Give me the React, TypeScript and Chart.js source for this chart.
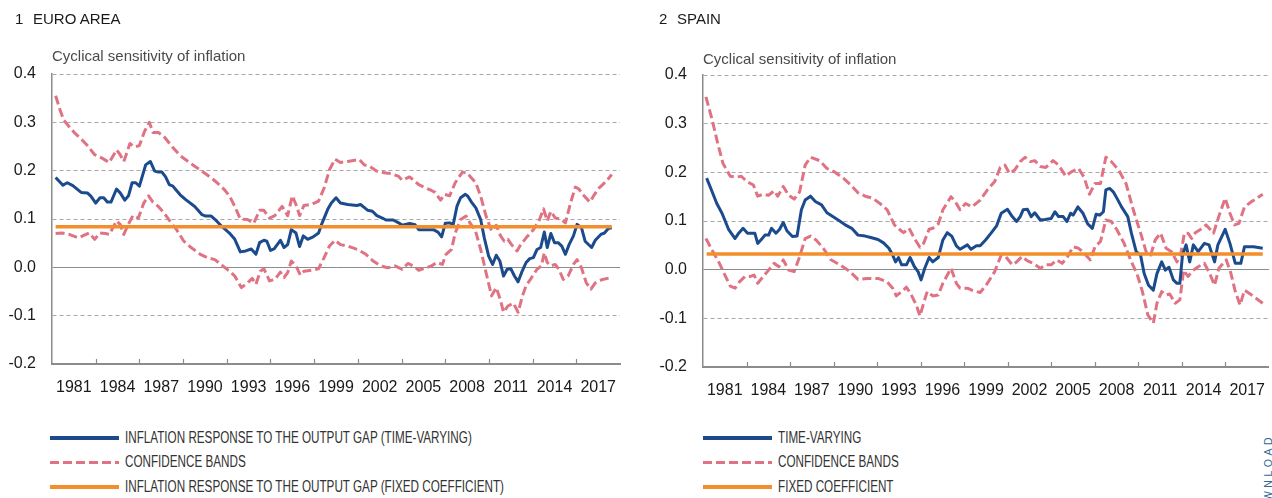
import React, { useEffect, useRef } from "react";
import { Chart, registerables } from "chart.js";

Chart.register(...registerables);

// ---------- axis labels ----------
const xTickLabels = ["1981", "1984", "1987", "1990", "1993", "1996", "1999", "2002", "2005", "2008", "2011", "2014", "2017"];
const yTicks = [-0.2, -0.1, 0.0, 0.1, 0.2, 0.3, 0.4];

// ---------- EURO AREA ----------
const euroTvYears = [1980.25,1980.75,1981.05,1981.43,1982.0,1982.43,1982.68,1983.0,1983.3,1983.55,1983.8,1984.05,1984.43,1984.68,1985.0,1985.25,1985.5,1985.75,1986.0,1986.43,1986.75,1987.05,1987.3,1987.55,1987.8,1988.05,1988.3,1988.55,1988.8,1989.18,1989.8,1990.3,1990.55,1990.93,1991.3,1991.68,1992.18,1992.55,1992.93,1993.3,1993.68,1994.0,1994.25,1994.55,1994.75,1995.0,1995.25,1995.68,1995.93,1996.18,1996.43,1996.75,1997.0,1997.25,1997.55,1997.93,1998.3,1998.55,1998.93,1999.18,1999.5,1999.8,2000.3,2000.93,2001.18,2001.43,2001.68,2002.0,2002.3,2002.68,2002.93,2003.43,2003.8,2004.05,2004.55,2004.93,2005.18,2005.55,2006.18,2006.5,2006.75,2007.0,2007.3,2007.55,2007.8,2008.05,2008.38,2008.55,2008.8,2009.1,2009.43,2009.68,2009.98,2010.25,2010.5,2010.75,2011.0,2011.25,2011.5,2011.75,2012.0,2012.25,2012.55,2012.8,2013.05,2013.3,2013.55,2013.8,2014.0,2014.25,2014.5,2014.75,2015.0,2015.25,2015.5,2015.8,2016.05,2016.35,2016.6,2017.05,2017.3,2017.68,2017.93,2018.18,2018.43];
const euroTvValues = [0.186,0.170,0.175,0.169,0.155,0.154,0.147,0.133,0.144,0.144,0.135,0.135,0.162,0.154,0.139,0.148,0.175,0.175,0.168,0.212,0.219,0.199,0.197,0.197,0.187,0.171,0.168,0.159,0.150,0.140,0.126,0.109,0.106,0.106,0.096,0.084,0.071,0.058,0.032,0.034,0.038,0.027,0.051,0.056,0.054,0.035,0.038,0.056,0.041,0.047,0.078,0.071,0.043,0.065,0.058,0.063,0.071,0.092,0.120,0.133,0.144,0.133,0.130,0.128,0.130,0.124,0.118,0.116,0.107,0.102,0.098,0.098,0.092,0.087,0.091,0.088,0.078,0.078,0.078,0.073,0.063,0.091,0.092,0.089,0.126,0.144,0.151,0.147,0.135,0.123,0.099,0.061,0.023,0.006,0.025,0.013,-0.018,-0.004,-0.003,-0.018,-0.030,-0.010,0.010,0.018,0.020,0.037,0.041,0.073,0.041,0.070,0.051,0.051,0.044,0.027,0.047,0.065,0.089,0.082,0.054,0.041,0.056,0.068,0.071,0.080,0.082];

const euroUpYears = [1980.25,1980.55,1980.8,1981.18,1981.55,1982.05,1982.43,1982.93,1983.43,1983.93,1984.43,1984.68,1984.93,1985.35,1985.68,1986.0,1986.35,1986.68,1986.93,1987.3,1987.68,1988.18,1988.8,1989.43,1989.8,1990.3,1990.8,1991.3,1991.8,1992.18,1992.55,1992.93,1993.43,1993.85,1994.25,1994.55,1994.93,1995.3,1995.8,1996.18,1996.5,1996.8,1997.0,1997.3,1997.8,1998.3,1998.68,1999.05,1999.43,1999.8,2000.3,2001.1,2001.43,2001.8,2002.3,2002.93,2003.3,2003.8,2004.05,2004.55,2004.93,2005.18,2005.68,2006.05,2006.3,2006.68,2006.93,2007.3,2007.68,2008.18,2008.5,2008.8,2009.1,2009.43,2009.8,2010.18,2010.5,2010.8,2011.05,2011.3,2011.55,2011.93,2012.18,2012.55,2013.05,2013.43,2013.75,2014.0,2014.25,2014.55,2014.93,2015.25,2015.6,2015.93,2016.18,2016.43,2016.93,2017.25,2017.55,2018.05,2018.43];
const euroUpValues = [0.355,0.326,0.305,0.291,0.278,0.264,0.252,0.233,0.226,0.217,0.243,0.233,0.219,0.256,0.249,0.252,0.281,0.300,0.279,0.279,0.271,0.252,0.231,0.217,0.209,0.199,0.188,0.176,0.162,0.148,0.126,0.100,0.099,0.091,0.118,0.118,0.102,0.107,0.126,0.107,0.148,0.126,0.107,0.128,0.130,0.137,0.164,0.202,0.224,0.217,0.219,0.223,0.212,0.209,0.199,0.195,0.194,0.188,0.180,0.187,0.178,0.171,0.164,0.159,0.155,0.139,0.151,0.148,0.175,0.197,0.195,0.185,0.175,0.147,0.106,0.075,0.087,0.065,0.054,0.058,0.047,0.034,0.047,0.061,0.078,0.096,0.121,0.096,0.116,0.102,0.100,0.092,0.133,0.166,0.162,0.151,0.135,0.151,0.164,0.178,0.192];

const euroLoYears = [1980.25,1980.68,1981.18,1981.8,1982.18,1982.55,1982.93,1983.3,1983.68,1983.93,1984.43,1984.68,1984.93,1985.18,1985.55,1985.93,1986.3,1986.63,1986.93,1987.3,1987.68,1988.18,1988.55,1989.05,1989.55,1990.18,1990.68,1991.18,1991.68,1992.18,1992.55,1993.0,1993.43,1993.75,1994.0,1994.3,1994.55,1994.93,1995.3,1995.68,1995.93,1996.18,1996.43,1996.75,1997.05,1997.3,1997.8,1998.3,1998.68,1999.05,1999.43,1999.8,2000.3,2001.05,2001.55,2002.05,2002.55,2003.05,2003.55,2004.05,2004.43,2004.8,2005.18,2005.68,2006.05,2006.43,2006.8,2007.05,2007.43,2007.68,2008.05,2008.43,2008.75,2009.05,2009.43,2009.8,2010.18,2010.5,2010.8,2011.0,2011.3,2011.68,2012.0,2012.3,2012.55,2012.93,2013.3,2013.6,2013.8,2014.0,2014.25,2014.55,2014.8,2015.1,2015.43,2015.8,2016.05,2016.35,2016.68,2017.0,2017.3,2017.8,2018.43];
const euroLoValues = [0.070,0.071,0.068,0.061,0.066,0.071,0.058,0.071,0.070,0.068,0.096,0.089,0.068,0.085,0.107,0.102,0.133,0.148,0.135,0.126,0.113,0.092,0.078,0.054,0.041,0.027,0.020,0.016,0.004,-0.008,-0.018,-0.042,-0.032,-0.023,-0.035,-0.008,-0.003,-0.028,-0.025,-0.010,-0.021,-0.011,0.013,0.003,-0.016,-0.008,-0.006,-0.003,0.020,0.044,0.056,0.047,0.044,0.036,0.027,0.013,0.003,-0.001,0.003,-0.004,0.008,0.003,-0.006,-0.001,0.003,0.010,0.006,0.027,0.037,0.071,0.099,0.106,0.089,0.078,0.037,-0.011,-0.059,-0.042,-0.069,-0.093,-0.080,-0.074,-0.093,-0.059,-0.038,-0.021,-0.004,0.003,0.030,0.010,0.003,0.006,-0.004,-0.025,-0.018,0.006,0.016,-0.001,-0.032,-0.045,-0.032,-0.025,-0.021];

const euroFixedYears = [1980.25, 2018.43];
const euroFixedValues = [0.084, 0.084];

// ---------- SPAIN ----------
const spainTvYears = [1980.25,1980.63,1980.95,1981.31,1981.76,1982.21,1982.46,1982.76,1983.07,1983.57,1983.77,1984.02,1984.27,1984.52,1984.72,1985.03,1985.28,1985.53,1985.78,1986.16,1986.48,1986.78,1987.04,1987.41,1987.74,1988.17,1988.54,1989.05,1989.42,1989.8,1990.25,1990.68,1991.18,1991.56,1992.06,1992.44,1992.81,1993.07,1993.27,1993.47,1993.69,1994.02,1994.27,1994.57,1994.82,1995.03,1995.28,1995.58,1995.83,1996.21,1996.53,1996.83,1997.14,1997.46,1997.71,1998.22,1998.47,1998.84,1999.1,1999.47,1999.85,2000.23,2000.55,2000.98,2001.31,2001.61,2001.86,2002.06,2002.36,2002.61,2002.86,2003.24,2003.57,2003.99,2004.25,2004.5,2004.82,2005.08,2005.33,2005.5,2005.83,2006.18,2006.51,2006.83,2007.09,2007.34,2007.59,2007.76,2008.02,2008.27,2008.52,2008.84,2009.27,2009.52,2009.85,2010.15,2010.4,2010.7,2011.03,2011.28,2011.61,2011.86,2012.11,2012.41,2012.66,2012.86,2013.04,2013.29,2013.54,2013.79,2014.12,2014.55,2014.87,2015.25,2015.48,2015.98,2016.31,2016.68,2017.06,2017.31,2017.94,2018.57];
const spainTvValues = [0.188,0.160,0.136,0.116,0.083,0.064,0.075,0.085,0.075,0.075,0.054,0.062,0.071,0.071,0.085,0.075,0.083,0.097,0.080,0.068,0.069,0.123,0.143,0.151,0.140,0.133,0.117,0.107,0.100,0.092,0.085,0.071,0.069,0.066,0.062,0.055,0.044,0.030,0.016,0.025,0.010,0.010,0.025,0.006,-0.004,-0.021,0.003,0.025,0.016,0.025,0.061,0.076,0.069,0.049,0.042,0.051,0.042,0.049,0.049,0.061,0.075,0.090,0.116,0.124,0.109,0.099,0.109,0.123,0.124,0.109,0.117,0.102,0.103,0.105,0.119,0.109,0.109,0.099,0.116,0.112,0.129,0.116,0.094,0.085,0.114,0.112,0.119,0.164,0.167,0.160,0.147,0.129,0.109,0.075,0.037,0.030,-0.008,-0.032,-0.042,-0.008,0.016,-0.001,0.005,-0.021,-0.028,-0.028,0.030,0.051,0.016,0.051,0.037,0.054,0.051,0.016,0.051,0.083,0.054,0.013,0.013,0.047,0.047,0.044];

const spainUpYears = [1980.2,1980.63,1981.01,1981.38,1981.88,1982.26,1982.64,1983.02,1983.47,1983.77,1984.15,1984.52,1984.9,1985.15,1985.53,1985.9,1986.28,1986.66,1987.04,1987.41,1988.04,1988.54,1989.05,1989.67,1990.18,1990.68,1991.18,1991.68,1992.19,1992.69,1993.19,1993.57,1993.82,1994.2,1994.57,1994.95,1995.2,1995.58,1995.83,1996.21,1996.53,1997.09,1997.46,1997.71,1998.09,1998.54,1999.1,1999.6,2000.1,2000.48,2000.8,2001.11,2001.48,2001.86,2002.19,2002.56,2002.86,2003.24,2003.62,2004.12,2004.5,2005.0,2005.38,2005.88,2006.26,2006.63,2007.01,2007.39,2007.76,2008.14,2008.64,2009.15,2009.4,2009.65,2009.9,2010.2,2010.53,2010.85,2011.16,2011.53,2011.91,2012.29,2012.66,2012.91,2013.17,2013.42,2013.67,2013.92,2014.3,2014.67,2015.18,2015.55,2015.98,2016.31,2016.63,2016.93,2017.31,2017.81,2018.57];
const spainUpValues = [0.355,0.308,0.260,0.218,0.192,0.190,0.192,0.181,0.174,0.151,0.155,0.153,0.162,0.151,0.171,0.153,0.145,0.160,0.215,0.231,0.224,0.208,0.201,0.188,0.174,0.158,0.151,0.147,0.136,0.123,0.092,0.082,0.076,0.085,0.064,0.046,0.054,0.083,0.085,0.094,0.123,0.150,0.136,0.123,0.136,0.129,0.143,0.164,0.181,0.210,0.215,0.198,0.205,0.222,0.231,0.222,0.224,0.212,0.210,0.224,0.215,0.192,0.201,0.208,0.190,0.155,0.177,0.177,0.231,0.222,0.205,0.177,0.150,0.123,0.099,0.071,0.037,0.030,0.061,0.075,0.044,0.037,0.016,0.030,0.075,0.075,0.064,0.076,0.083,0.092,0.075,0.110,0.147,0.116,0.092,0.095,0.129,0.140,0.155];

const spainLoYears = [1980.2,1980.63,1981.13,1981.51,1981.88,1982.21,1982.51,1982.89,1983.27,1983.52,1983.77,1984.15,1984.52,1984.9,1985.23,1985.53,1985.9,1986.28,1986.66,1987.04,1987.41,1987.79,1988.29,1988.79,1989.42,1990.05,1990.68,1991.31,1992.06,1992.69,1993.07,1993.32,1993.69,1994.02,1994.32,1994.7,1994.95,1995.2,1995.45,1995.83,1996.21,1996.53,1997.09,1997.46,1997.71,1998.22,1998.59,1999.1,1999.6,2000.1,2000.55,2000.85,2001.31,2001.61,2001.98,2002.36,2002.74,2003.24,2003.62,2003.99,2004.37,2004.75,2005.13,2005.5,2005.88,2006.26,2006.69,2007.01,2007.39,2007.76,2008.14,2008.52,2009.02,2009.52,2009.9,2010.28,2010.65,2011.03,2011.28,2011.61,2011.91,2012.16,2012.54,2012.86,2013.12,2013.42,2013.79,2014.12,2014.55,2014.92,2015.25,2015.55,2016.06,2016.38,2016.68,2017.01,2017.31,2017.81,2018.57];
const spainLoValues = [0.064,0.040,0.013,-0.011,-0.034,-0.038,-0.025,-0.014,-0.014,-0.011,-0.028,-0.014,-0.001,0.013,0.006,0.020,-0.001,-0.004,0.027,0.064,0.069,0.061,0.044,0.021,0.010,-0.002,-0.020,-0.018,-0.018,-0.025,-0.038,-0.054,-0.045,-0.036,-0.050,-0.073,-0.095,-0.069,-0.045,-0.054,-0.052,-0.028,0.003,-0.028,-0.038,-0.038,-0.043,-0.047,-0.028,-0.004,0.030,0.027,0.010,0.016,0.027,0.018,0.013,0.003,0.010,0.010,0.020,0.013,0.027,0.047,0.044,0.034,0.020,0.047,0.058,0.102,0.099,0.082,0.054,0.016,-0.008,-0.045,-0.093,-0.110,-0.069,-0.045,-0.052,-0.050,-0.069,-0.062,-0.001,-0.014,-0.001,0.006,0.013,-0.008,-0.032,0.003,0.020,-0.008,-0.045,-0.073,-0.042,-0.052,-0.069];

const spainFixedYears = [1980.25, 2018.57];
const spainFixedValues = [0.032, 0.032];

// ---------- styling ----------
const BLUE = "#1b4b8c";
const PINK = "#e07383";
const ORANGE = "#f28e2b";
const FONT = "'Liberation Sans', Arial, sans-serif";

const zip = (xs: number[], ys: number[]) => xs.map((x, i) => ({ x, y: ys[i] }));

const innerTicks = {
  id: "innerTicks",
  afterDraw(chart: any) {
    const { ctx, chartArea, scales } = chart;
    const x = scales.x;
    ctx.save();
    ctx.strokeStyle = "#8a8a8a";
    ctx.lineWidth = 1.2;
    xTickLabels.slice(1).forEach((lab) => {
      const b = Number(lab) - 1.5 + 0.5;
      const px = Math.round(x.getPixelForValue(b)) + 0.5;
      ctx.beginPath();
      ctx.moveTo(px, chartArea.bottom);
      ctx.lineTo(px, chartArea.bottom - 5);
      ctx.stroke();
    });
    ctx.restore();
  },
};

type PanelProps = {
  left: number;
  width: number;
  axisWidth: number;
  top: number;
  bottom: number;
  series: { tv: any[]; up: any[]; lo: any[]; fixed: any[] };
};

function Panel({ left, width, axisWidth, top, bottom, series }: PanelProps) {
  const ref = useRef<HTMLCanvasElement>(null);
  const height = 420;
  useEffect(() => {
    if (!ref.current) return;
    const dash = [9, 4];
    const chart = new Chart(ref.current, {
      type: "line",
      data: {
        datasets: [
          { data: series.fixed, borderColor: ORANGE, borderWidth: 3.5, pointRadius: 0, order: 0 },
          { data: series.tv, borderColor: BLUE, borderWidth: 3, pointRadius: 0, order: 1 },
          { data: series.up, borderColor: PINK, borderWidth: 3, borderDash: dash, pointRadius: 0, order: 2 },
          { data: series.lo, borderColor: PINK, borderWidth: 3, borderDash: dash, pointRadius: 0, order: 2 },
        ],
      },
      options: {
        responsive: false,
        animation: false,
        devicePixelRatio: 1,
        parsing: false as any,
        layout: { padding: { left: 0, right: 0, top: top, bottom: height - 40 - bottom } },
        plugins: { legend: { display: false }, tooltip: { enabled: false } },
        elements: { line: { tension: 0, borderJoinStyle: "round" as any } },
        scales: {
          x: {
            type: "linear",
            min: 1980,
            max: 2019,
            afterBuildTicks: (scale: any) => {
              const t: any[] = [];
              xTickLabels.forEach((lab) => t.push({ value: Number(lab) + 0.5 }));
              scale.ticks = t;
            },
            afterFit: (scale: any) => {
              scale.height = 40;
            },
            ticks: {
              autoSkip: false,
              maxRotation: 0,
              padding: 14,
              color: "#1a1a1a",
              font: { family: FONT, size: 16 },
              callback: (v: any) => String(Math.round(Number(v) - 0.5)),
            },
            grid: { display: false, drawTicks: false },
            border: { display: true, color: "#8c8c8c", width: 2 },
          },
          y: {
            type: "linear",
            min: -0.2,
            max: 0.4,
            afterBuildTicks: (scale: any) => {
              scale.ticks = yTicks.map((v) => ({ value: v }));
            },
            afterFit: (scale: any) => {
              scale.width = axisWidth;
            },
            ticks: {
              padding: 16,
              color: "#1a1a1a",
              font: { family: FONT, size: 16 },
              callback: (v: any) => (Math.abs(Number(v)) < 1e-9 ? "0.0" : Number(v).toFixed(1)),
            },
            grid: {
              drawTicks: false,
              lineWidth: 1,
              color: (c: any) => (c.tick && Math.abs(c.tick.value) < 1e-9 ? "#8c8c8c" : "#a8a8a8"),
            },
            border: {
              display: true,
              color: "#8c8c8c",
              width: 1.5,
              dash: (c: any) => (c.tick && Math.abs(c.tick.value) < 1e-9 ? [] : [4, 3]),
            } as any,
          },
        },
      },
      plugins: [innerTicks],
    } as any);
    return () => chart.destroy();
  }, []);
  return (
    <canvas
      ref={ref}
      width={width}
      height={height}
      style={{ position: "absolute", left, top: 0, width, height }}
    />
  );
}

function LegendRow({ x, y, kind, text }: { x: number; y: number; kind: "blue" | "pink" | "orange"; text: string }) {
  const sample =
    kind === "pink"
      ? { height: 3, background: `repeating-linear-gradient(to right, ${PINK} 0px, ${PINK} 9px, transparent 9px, transparent 13px)` }
      : { height: 4, background: kind === "blue" ? BLUE : ORANGE };
  return (
    <div style={{ position: "absolute", left: x, top: y - 10, height: 20, display: "flex", alignItems: "center" }}>
      <div style={{ width: 69, ...sample }} />
      <div
        style={{
          marginLeft: 6,
          fontSize: 16,
          color: "#333",
          whiteSpace: "nowrap",
          transform: "scaleX(0.73)",
          transformOrigin: "left center",
          lineHeight: "20px",
        }}
      >
        {text}
      </div>
    </div>
  );
}

export default function App() {
  const euro = {
    tv: zip(euroTvYears, euroTvValues),
    up: zip(euroUpYears, euroUpValues),
    lo: zip(euroLoYears, euroLoValues),
    fixed: zip(euroFixedYears, euroFixedValues),
  };
  const spain = {
    tv: zip(spainTvYears, spainTvValues),
    up: zip(spainUpYears, spainUpValues),
    lo: zip(spainLoYears, spainLoValues),
    fixed: zip(spainFixedYears, spainFixedValues),
  };
  const titleStyle: React.CSSProperties = { position: "absolute", fontSize: 15, lineHeight: "15px", color: "#1a1a1a", whiteSpace: "nowrap" };
  const subStyle: React.CSSProperties = { position: "absolute", fontSize: 15, lineHeight: "15px", color: "#4a4a4a", whiteSpace: "nowrap" };
  return (
    <div
      style={{
        position: "absolute",
        left: 0,
        top: 0,
        width: 1272,
        height: 498,
        overflow: "hidden",
        background: "#fff",
        fontFamily: FONT,
      }}
    >
      <Panel left={0} width={630} axisWidth={52} top={74} bottom={364} series={euro} />
      <Panel left={640} width={639} axisWidth={63} top={75} bottom={367} series={spain} />

      <div style={{ ...titleStyle, left: 15, top: 11 }}>
        <span style={{ display: "inline-block", width: 18 }}>1</span>EURO AREA
      </div>
      <div style={{ ...titleStyle, left: 659, top: 11 }}>
        <span style={{ display: "inline-block", width: 18 }}>2</span>SPAIN
      </div>
      <div style={{ ...subStyle, left: 52, top: 48 }}>Cyclical sensitivity of inflation</div>
      <div style={{ ...subStyle, left: 703, top: 51 }}>Cyclical sensitivity of inflation</div>

      <LegendRow x={50} y={438} kind="blue" text="INFLATION RESPONSE TO THE OUTPUT GAP (TIME-VARYING)" />
      <LegendRow x={50} y={462} kind="pink" text="CONFIDENCE BANDS" />
      <LegendRow x={50} y={487} kind="orange" text="INFLATION RESPONSE TO THE OUTPUT GAP (FIXED COEFFICIENT)" />

      <LegendRow x={703} y={438} kind="blue" text="TIME-VARYING" />
      <LegendRow x={703} y={462} kind="pink" text="CONFIDENCE BANDS" />
      <LegendRow x={703} y={487} kind="orange" text="FIXED COEFFICIENT" />

      <div
        style={{
          position: "absolute",
          left: 1263,
          top: 434,
          writingMode: "vertical-rl",
          transform: "rotate(180deg)",
          fontSize: 10.5,
          letterSpacing: 3.5,
          color: "#2f6896",
          lineHeight: "10px",
        }}
      >
        DOWNLOAD
      </div>
    </div>
  );
}
